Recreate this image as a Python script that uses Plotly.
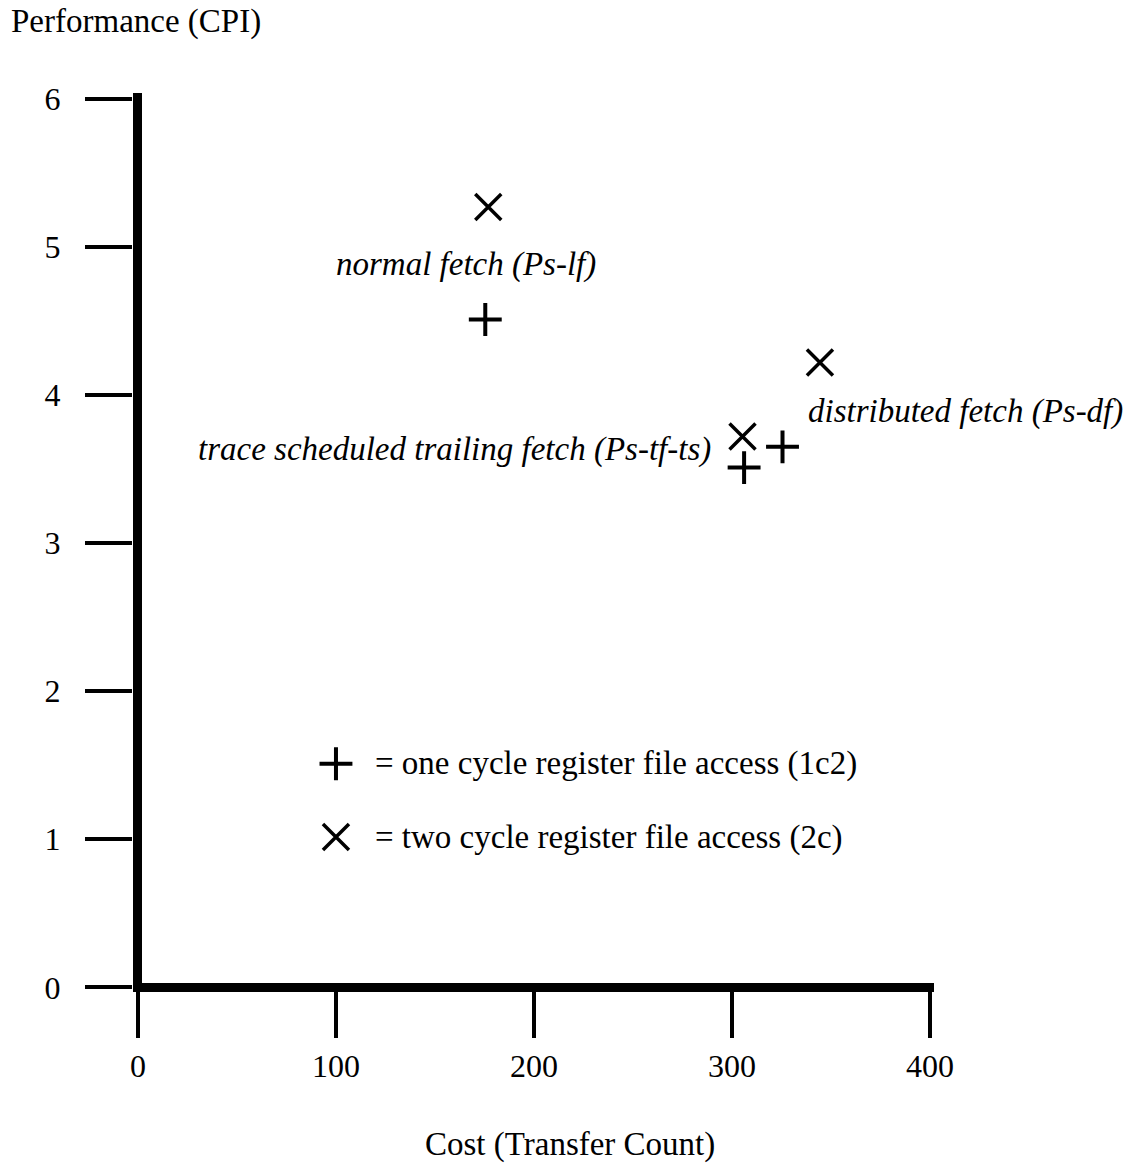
import plotly.graph_objects as go

# ---- data ----
one_cycle_cost = [175.4, 306.1, 325.5]     # "+" one cycle register file access (1c2)
one_cycle_cpi = [4.51, 3.51, 3.65]
two_cycle_cost = [176.9, 305.3, 344.4]     # "x" two cycle register file access (2c)
two_cycle_cpi = [5.27, 3.72, 4.22]

x_ticks = [0, 100, 200, 300, 400]
y_ticks = [0, 1, 2, 3, 4, 5, 6]

point_labels = ["normal fetch (Ps-lf)", "distributed fetch (Ps-df)",
                "trace scheduled trailing fetch (Ps-tf-ts)"]
label_x = [165.8, 337.4, 290.5]
label_y = [4.88, 3.89, 3.635]
label_anchor = ["center", "left", "right"]

legend_texts = ["= one cycle register file access (1c2)",
                "= two cycle register file access (2c)"]
legend_key_x = [100, 100]
legend_key_y = [1.51, 1.015]
legend_text_x = 118.9

FONT = "Liberation Serif, Times New Roman, serif"
TXT = 33
TICK = 32
W, H = 1134, 1163
L, R, T, B = 132.5, 200, 93, 172.3
pw, ph = W - L - R, H - T - B


def px_to_paper(px, py):
    return (px - L) / pw, (H - B - py) / ph


fig = go.Figure()

plus_marker = dict(symbol="cross-thin", size=23.5, line=dict(width=4, color="black"), color="black")
x_marker = dict(symbol="x-thin", size=26, line=dict(width=3.5, color="black"), color="black")

fig.add_trace(go.Scatter(x=one_cycle_cost, y=one_cycle_cpi, mode="markers",
                         marker=plus_marker, showlegend=False, hoverinfo="skip"))
fig.add_trace(go.Scatter(x=two_cycle_cost, y=two_cycle_cpi, mode="markers",
                         marker=x_marker, showlegend=False, hoverinfo="skip"))
# legend keys
fig.add_trace(go.Scatter(x=legend_key_x[:1], y=legend_key_y[:1], mode="markers",
                         marker=plus_marker, showlegend=False, hoverinfo="skip"))
fig.add_trace(go.Scatter(x=legend_key_x[1:], y=legend_key_y[1:], mode="markers",
                         marker=x_marker, showlegend=False, hoverinfo="skip"))

annotations = []
for t, x, y, a in zip(point_labels, label_x, label_y, label_anchor):
    annotations.append(dict(x=x, y=y, xref="x", yref="y", text="<i>" + t + "</i>",
                            showarrow=False, xanchor=a, yanchor="middle",
                            font=dict(family=FONT, size=TXT, color="black")))
for t, y in zip(legend_texts, legend_key_y):
    annotations.append(dict(x=legend_text_x, y=y, xref="x", yref="y", text=t,
                            showarrow=False, xanchor="left", yanchor="middle",
                            font=dict(family=FONT, size=TXT, color="black")))

tx, ty = px_to_paper(8, 22)
annotations.append(dict(x=tx, y=ty, xref="paper", yref="paper", text="Performance (CPI)",
                        showarrow=False, xanchor="left", yanchor="middle",
                        font=dict(family=FONT, size=TXT, color="black")))
cx, cy = px_to_paper(570, 1144)
annotations.append(dict(x=cx, y=cy, xref="paper", yref="paper", text="Cost (Transfer Count)",
                        showarrow=False, xanchor="center", yanchor="middle",
                        font=dict(family=FONT, size=TXT, color="black")))

fig.update_layout(
    width=W, height=H,
    margin=dict(l=L, r=R, t=T, b=B, pad=0),
    paper_bgcolor="white", plot_bgcolor="white",
    font=dict(family=FONT, size=TXT, color="black"),
    annotations=annotations,
    xaxis=dict(range=[-2.5, 402], tickvals=x_ticks, ticks="outside", ticklen=46,
               tickwidth=4, tickcolor="black", showgrid=False, showline=False,
               zeroline=True, zerolinewidth=9, zerolinecolor="black",
               ticklabelstandoff=1, tickfont=dict(family=FONT, size=TICK, color="black")),
    yaxis=dict(range=[-0.025, 6.04], tickvals=y_ticks, ticks="outside", ticklen=47,
               tickwidth=4, tickcolor="black", showgrid=False, showline=False,
               zeroline=True, zerolinewidth=9, zerolinecolor="black",
               ticklabelstandoff=18, tickfont=dict(family=FONT, size=TICK, color="black")),
)

fig.write_html("out.html", config={"displayModeBar": False},
               post_script="document.body.style.margin='0';document.body.style.overflow='hidden';")
